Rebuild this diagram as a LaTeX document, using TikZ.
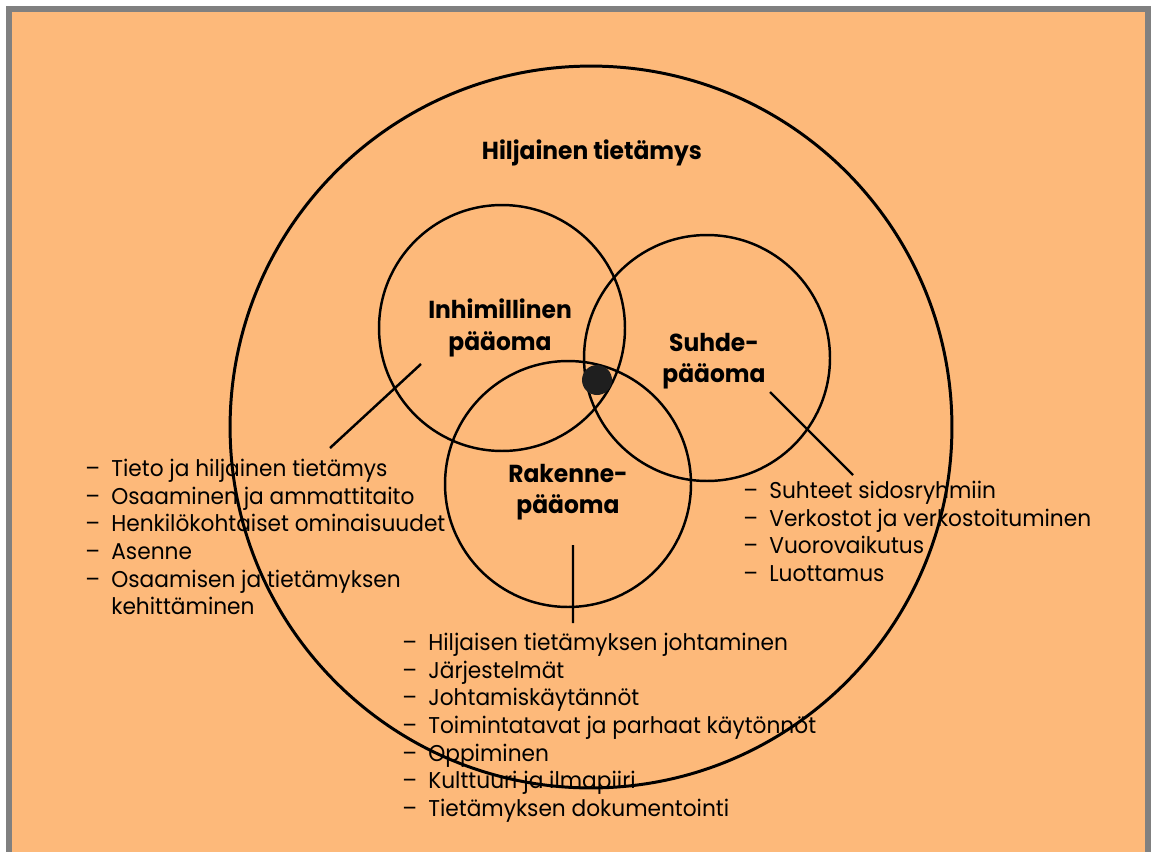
\documentclass[tikz,border=0pt]{standalone}
\usepackage{fontspec}
\setmainfont{Poppins}[FakeStretch=0.95]
\usetikzlibrary{positioning}
\definecolor{paper}{RGB}{253,185,122}
\definecolor{frame}{RGB}{128,128,128}
\newcommand{\dashitem}{\makebox[0.52cm][l]{–}}
\newcommand{\hangitem}{\makebox[0.52cm][l]{}}

\begin{document}
\begin{tikzpicture}[x=0.02cm,y=-0.02cm,
    ring/.style={circle,draw,line width=1.4pt,inner sep=0pt},
    title/.style={font=\bfseries\fontsize{14}{18}\selectfont,align=center},
    itemlist/.style={font=\fontsize{13}{15.7}\selectfont,align=left,anchor=north west,inner sep=0pt}]
    \useasboundingbox (0,0) rectangle (1151,852);
    \fill[frame] (6,6) rectangle (1151,852);
    \fill[paper] (12,12) rectangle (1145,852);
    % circles
    \node[ring,line width=1.7pt,minimum size=14.44cm] at (591,427) (outer) {};
    \node[ring,minimum size=4.92cm] at (502,328) (human) {};
    \node[ring,minimum size=4.92cm] at (707,358) (relation) {};
    \node[ring,minimum size=4.92cm] at (568,484) (structure) {};
    \node[circle,fill=black!88,minimum size=0.6cm,inner sep=0pt] at (597,380) (core) {};
    % titles
    \node[title] at (592,153) (tacit) {Hiljainen tietämys};
    \node[title] at (500,328) (humanlbl) {Inhimillinen\\pääoma};
    \node[title] at (714,361) (relationlbl) {Suhde-\\pääoma};
    \node[title] at (568,492) (structurelbl) {Rakenne-\\pääoma};
    % lists
    \node[itemlist] at (85,459) (humanlist) {\dashitem Tieto ja hiljainen tietämys\\
        \dashitem Osaaminen ja ammattitaito\\
        \dashitem Henkilökohtaiset ominaisuudet\\
        \dashitem Asenne\\
        \dashitem Osaamisen ja tietämyksen\\
        \hangitem kehittäminen};
    \node[itemlist] at (743,481) (relationlist) {\dashitem Suhteet sidosryhmiin\\
        \dashitem Verkostot ja verkostoituminen\\
        \dashitem Vuorovaikutus\\
        \dashitem Luottamus};
    \node[itemlist] at (402,633) (structurelist) {\dashitem Hiljaisen tietämyksen johtaminen\\
        \dashitem Järjestelmät\\
        \dashitem Johtamiskäytännöt\\
        \dashitem Toimintatavat ja parhaat käytönnöt\\
        \dashitem Oppiminen\\
        \dashitem Kulttuuri ja ilmapiiri\\
        \dashitem Tietämyksen dokumentointi};
    % connectors
    \coordinate (humantip) at (421,364);
    \coordinate (humanfoot) at (330,448);
    \coordinate (relationtip) at (770,392);
    \coordinate (relationfoot) at (853,475);
    \coordinate (structuretip) at (573,545);
    \coordinate (structurefoot) at (573,623);
    \draw[line width=1.4pt]
    (humantip) -- (humanfoot)
    (relationtip) -- (relationfoot)
    (structuretip) -- (structurefoot);
\end{tikzpicture}
\end{document}
